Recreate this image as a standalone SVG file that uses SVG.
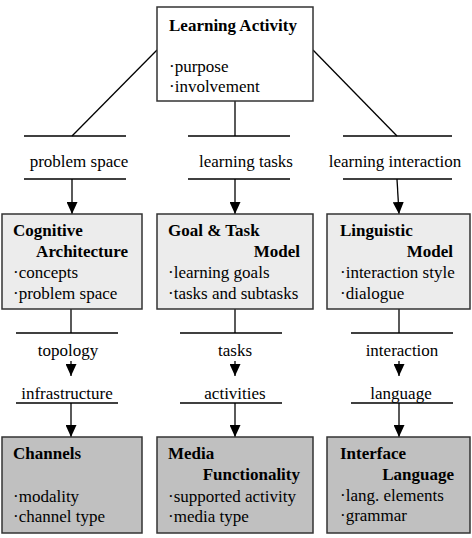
<svg xmlns="http://www.w3.org/2000/svg" width="472" height="538" viewBox="0 0 472 538">
  <style>
    text { font-family: 'Liberation Serif', 'DejaVu Serif', serif; font-size: 17px; fill: #000; }
    .b { font-weight: bold; }
    .m { text-anchor: middle; }
    .e { text-anchor: end; }
    .box { stroke: #333; stroke-width: 1.5; }
    .top { fill: #fff; }
    .mid { fill: #ececec; }
    .low { fill: #c0c0c0; }
    .ln { stroke: #000; stroke-width: 1.3; fill: none; }
    .ar { stroke: #000; stroke-width: 1.3; fill: none; marker-end: url(#head); }
  </style>
  <defs>
    <marker id="head" markerUnits="userSpaceOnUse" markerWidth="12" markerHeight="11" refX="12" refY="5.5" orient="auto">
      <path d="M0,0 L12,5.5 L0,11 z" fill="#000"/>
    </marker>
  </defs>

  <g font-family="Liberation Serif, DejaVu Serif, serif">
  <!-- connectors and labelled bars -->
  <g id="connectors">
    <line class="ln" x1="157" y1="50" x2="72" y2="136"/>
    <line class="ln" x1="235" y1="101" x2="235" y2="136"/>
    <line class="ln" x1="313" y1="50" x2="397" y2="136"/>

    <line class="ln" x1="24" y1="136" x2="126" y2="136"/>
    <line class="ln" x1="24" y1="179" x2="126" y2="179"/>
    <line class="ln" x1="188" y1="136" x2="290" y2="136"/>
    <line class="ln" x1="188" y1="179" x2="290" y2="179"/>
    <line class="ln" x1="343" y1="136" x2="452" y2="136"/>
    <line class="ln" x1="343" y1="179" x2="452" y2="179"/>

    <text class="m" x="79" y="167">problem space</text>
    <text class="m" x="246" y="167">learning tasks</text>
    <text class="m" x="395" y="167">learning interaction</text>

    <line class="ar" x1="72" y1="179" x2="72" y2="214"/>
    <line class="ar" x1="235" y1="179" x2="235" y2="214"/>
    <line class="ar" x1="397" y1="179" x2="399" y2="214"/>

    <line class="ln" x1="71" y1="309" x2="71" y2="333"/>
    <line class="ln" x1="235" y1="309" x2="235" y2="333"/>
    <line class="ln" x1="399" y1="309" x2="399" y2="333"/>
    <line class="ln" x1="16" y1="333" x2="118" y2="333"/>
    <line class="ln" x1="180" y1="333" x2="282" y2="333"/>
    <line class="ln" x1="351" y1="333" x2="453" y2="333"/>

    <text class="m" x="68" y="356">topology</text>
    <text class="m" x="235" y="356">tasks</text>
    <text class="m" x="402" y="356">interaction</text>

    <line class="ar" x1="71" y1="361" x2="71" y2="376"/>
    <line class="ar" x1="235" y1="361" x2="235" y2="376"/>
    <line class="ar" x1="399" y1="361" x2="399" y2="376"/>

    <text class="m" x="67" y="399">infrastructure</text>
    <text class="m" x="235" y="399">activities</text>
    <text class="m" x="401" y="399">language</text>

    <line class="ln" x1="16" y1="403" x2="118" y2="403"/>
    <line class="ln" x1="180" y1="403" x2="282" y2="403"/>
    <line class="ln" x1="351" y1="403" x2="453" y2="403"/>

    <line class="ar" x1="71" y1="403" x2="71" y2="437"/>
    <line class="ar" x1="235" y1="403" x2="235" y2="437"/>
    <line class="ar" x1="399" y1="403" x2="399" y2="437"/>
  </g>

  <g id="learning-activity">
    <rect class="box top" x="157" y="7" width="156" height="94"/>
    <text class="b" x="169" y="31">Learning Activity</text>
    <text x="169" y="72">·purpose</text>
    <text x="169" y="92">·involvement</text>
  </g>

  <g id="cognitive-architecture">
    <rect class="box mid" x="2" y="214" width="140" height="95"/>
    <text class="b" x="13" y="236">Cognitive</text>
    <text class="b e" x="128" y="257">Architecture</text>
    <text x="13" y="278">·concepts</text>
    <text x="13" y="299">·problem space</text>
  </g>

  <g id="goal-task-model">
    <rect class="box mid" x="157" y="214" width="156" height="95"/>
    <text class="b" x="168" y="236">Goal &amp; Task</text>
    <text class="b e" x="300" y="257">Model</text>
    <text x="168" y="278">·learning goals</text>
    <text x="168" y="299">·tasks and subtasks</text>
  </g>

  <g id="linguistic-model">
    <rect class="box mid" x="327" y="214" width="143" height="95"/>
    <text class="b" x="340" y="236">Linguistic</text>
    <text class="b e" x="453" y="257">Model</text>
    <text x="340" y="278">·interaction style</text>
    <text x="340" y="299">·dialogue</text>
  </g>

  <g id="channels">
    <rect class="box low" x="2" y="437" width="140" height="96"/>
    <text class="b" x="13" y="459">Channels</text>
    <text x="13" y="502">·modality</text>
    <text x="13" y="522">·channel type</text>
  </g>

  <g id="media-functionality">
    <rect class="box low" x="157" y="437" width="156" height="96"/>
    <text class="b" x="168" y="459">Media</text>
    <text class="b e" x="300" y="480">Functionality</text>
    <text x="168" y="502">·supported activity</text>
    <text x="168" y="522">·media type</text>
  </g>

  <g id="interface-language">
    <rect class="box low" x="327" y="437" width="143" height="96"/>
    <text class="b" x="340" y="459">Interface</text>
    <text class="b e" x="454" y="480">Language</text>
    <text x="340" y="501">·lang. elements</text>
    <text x="340" y="521">·grammar</text>
  </g>
  </g>
</svg>
